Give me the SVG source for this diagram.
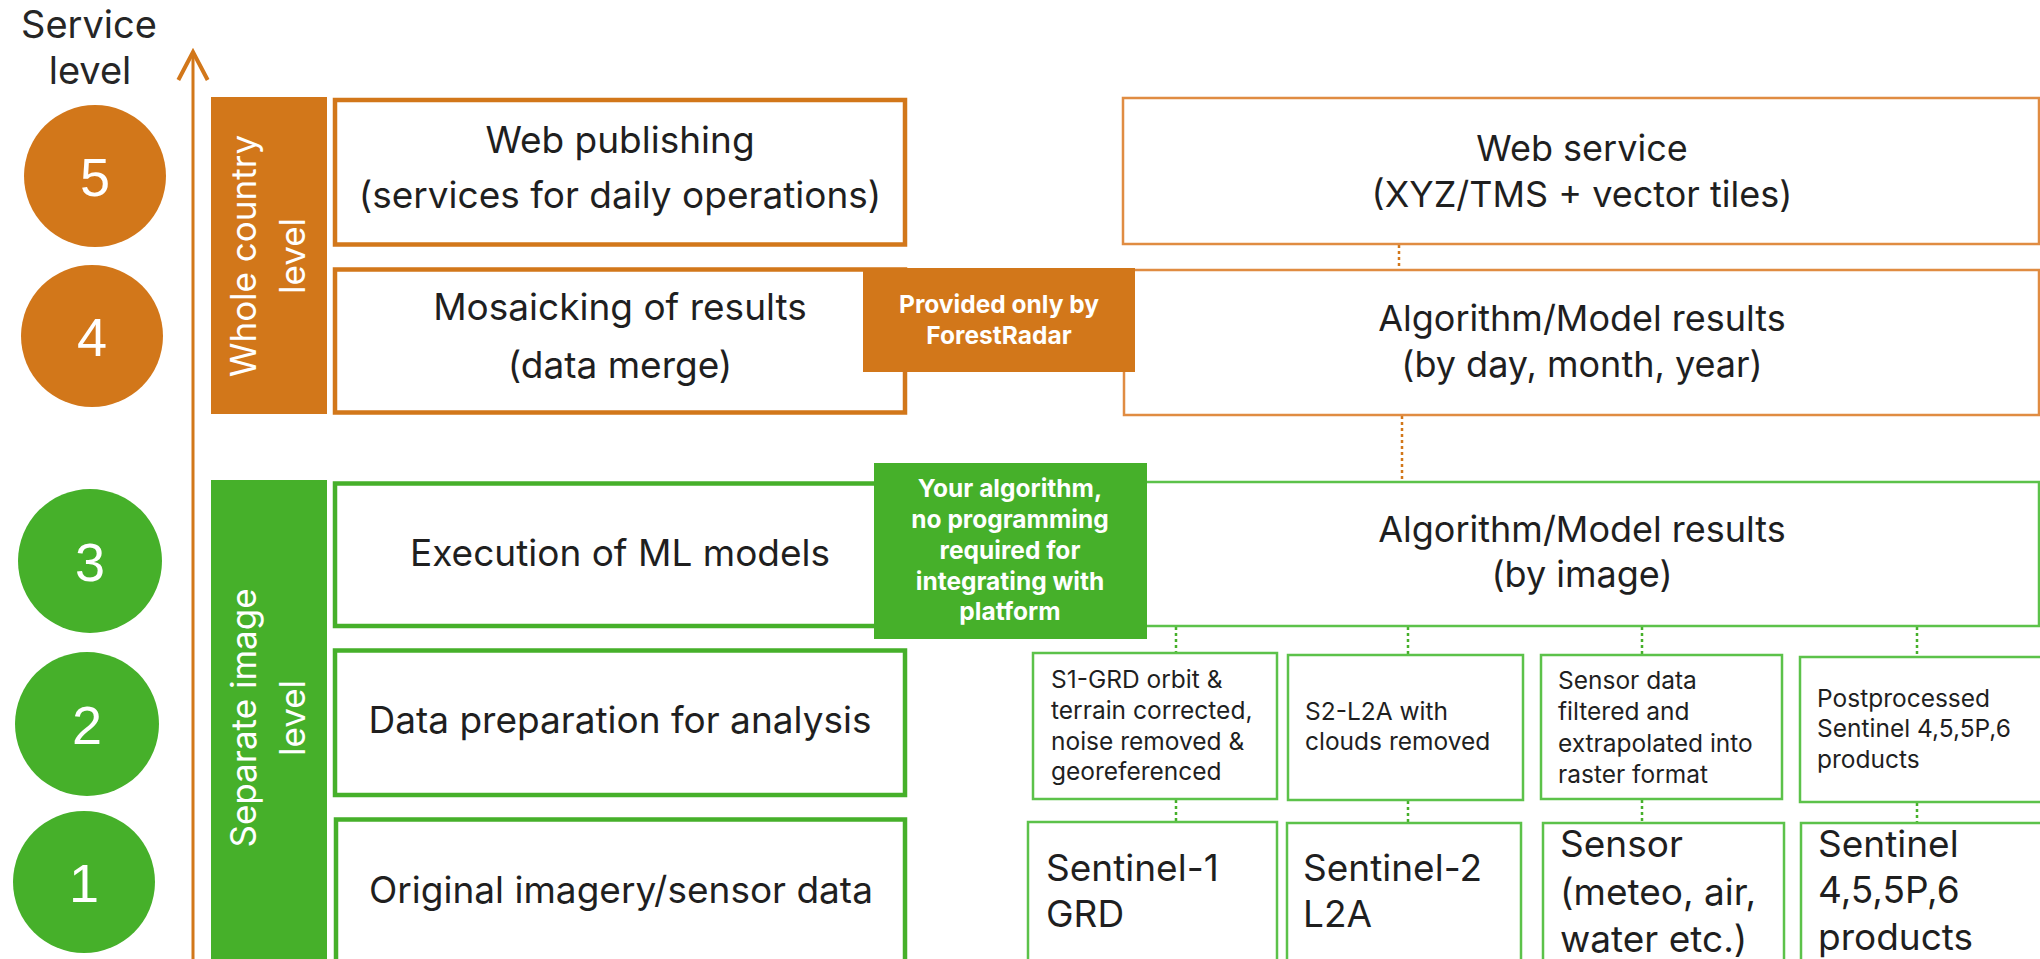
<svg xmlns="http://www.w3.org/2000/svg" width="2040" height="959" viewBox="0 0 2040 959">
<style>
text{font-family:Inter,"Open Sans","Liberation Sans",sans-serif;fill:#1f1f1f}
.lbl{font-size:37px;text-anchor:middle}
.rt{font-size:36px;text-anchor:middle}
.big{font-size:37px}
.sm{font-size:24.5px}
.co{font-size:24.5px;font-weight:bold;fill:#fff;text-anchor:middle}
.bar{font-size:35px;fill:#fff;text-anchor:middle}
.dig{font-family:"Liberation Sans",Inter,sans-serif;font-size:54px;fill:#fff;text-anchor:middle}
.hdr{font-size:38px;text-anchor:middle;fill:#262626}
.obox{fill:#fff;stroke:#D2771A;stroke-width:4.5}
.gbox{fill:#fff;stroke:#46B02A;stroke-width:4.5}
.orbox{fill:#fff;stroke:#E08C42;stroke-width:2.5}
.grbox{fill:#fff;stroke:#5CC24A;stroke-width:2.5}
.ofill{fill:#D2771A}
.gfill{fill:#46B02A}
.odot{stroke:#D2771A;stroke-width:2.5;stroke-dasharray:3 3;fill:none}
.gdot{stroke:#46B02A;stroke-width:2.5;stroke-dasharray:3 3;fill:none}
.axis{stroke:#D2771A;stroke-width:3;fill:none}
</style>
<defs>
<marker id="chev" markerUnits="userSpaceOnUse" markerWidth="40" markerHeight="40" viewBox="-25 -15 30 30" refX="0" refY="0" orient="auto" overflow="visible">
<path d="M-21,-11 L0,0 L-21,11" fill="none" stroke="#D2771A" stroke-width="3"/>
</marker>
</defs>
<rect width="2040" height="959" fill="#fff"/>

<g id="axis">
<text class="hdr" x="89" y="38">Service</text>
<text class="hdr" x="90" y="84">level</text>
<line class="axis" x1="193" y1="962" x2="193" y2="52" marker-end="url(#chev)"/>
</g>

<g id="level5"><circle class="ofill" cx="95" cy="176" r="71"/><text class="dig" x="95" y="196">5</text></g>
<g id="level4"><circle class="ofill" cx="92" cy="336" r="71"/><text class="dig" x="92" y="356">4</text></g>
<g id="level3"><circle class="gfill" cx="90" cy="561" r="72"/><text class="dig" x="90" y="581">3</text></g>
<g id="level2"><circle class="gfill" cx="87" cy="724" r="72"/><text class="dig" x="87" y="744">2</text></g>
<g id="level1"><circle class="gfill" cx="84" cy="882" r="71"/><text class="dig" x="84" y="902">1</text></g>

<g id="bar-country">
<rect class="ofill" x="211" y="97" width="116" height="317"/>
<text class="bar" transform="translate(0,256) rotate(-90)"><tspan x="0" y="256">Whole country</tspan><tspan x="0" y="305">level</tspan></text>
</g>
<g id="bar-image">
<rect class="gfill" x="211" y="480" width="116" height="490"/>
<text class="bar" transform="translate(0,718) rotate(-90)"><tspan x="0" y="256">Separate image</tspan><tspan x="0" y="305">level</tspan></text>
</g>

<g id="connectors">
<line class="odot" x1="1399" y1="245" x2="1399" y2="269"/>
<line class="odot" x1="1402" y1="416" x2="1402" y2="481"/>
<line class="gdot" x1="1176" y1="627" x2="1176" y2="653"/>
<line class="gdot" x1="1408" y1="627" x2="1408" y2="655"/>
<line class="gdot" x1="1642" y1="627" x2="1642" y2="655"/>
<line class="gdot" x1="1917" y1="627" x2="1917" y2="657"/>
<line class="gdot" x1="1176" y1="800" x2="1176" y2="822"/>
<line class="gdot" x1="1408" y1="801" x2="1408" y2="823"/>
<line class="gdot" x1="1642" y1="800" x2="1642" y2="823"/>
<line class="gdot" x1="1917" y1="803" x2="1917" y2="823"/>
</g>

<g id="web-publishing">
<rect class="obox" x="335" y="100" width="570" height="144.5"/>
<text class="lbl" x="620" y="153">Web publishing</text>
<text class="lbl" x="620" y="208">(services for daily operations)</text>
</g>
<g id="mosaicking">
<rect class="obox" x="335" y="269.5" width="570" height="143"/>
<text class="lbl" x="620" y="320">Mosaicking of results</text>
<text class="lbl" x="620" y="378">(data merge)</text>
</g>
<g id="execution">
<rect class="gbox" x="335" y="483.5" width="570" height="142.5"/>
<text class="lbl" x="620" y="566">Execution of ML models</text>
</g>
<g id="data-prep">
<rect class="gbox" x="335" y="650.5" width="570" height="144.5"/>
<text class="lbl" x="620" y="733">Data preparation for analysis</text>
</g>
<g id="original">
<rect class="gbox" x="336" y="819.5" width="569" height="160"/>
<text class="lbl" x="621" y="903">Original imagery/sensor data</text>
</g>

<g id="web-service">
<rect class="orbox" x="1123" y="98" width="916" height="146"/>
<text class="rt" x="1582" y="161">Web service</text>
<text class="rt" x="1582" y="207">(XYZ/TMS + vector tiles)</text>
</g>
<g id="results-period">
<rect class="orbox" x="1124" y="270" width="915" height="145"/>
<text class="rt" x="1582" y="331">Algorithm/Model results</text>
<text class="rt" x="1582" y="377">(by day, month, year)</text>
</g>
<g id="results-image">
<rect class="grbox" x="1125" y="482" width="914" height="144"/>
<text class="rt" x="1582" y="542">Algorithm/Model results</text>
<text class="rt" x="1582" y="587">(by image)</text>
</g>

<g id="prep-s1">
<rect class="grbox" x="1033" y="653" width="244" height="146"/>
<text class="sm" x="1051" y="688">S1-GRD orbit &amp;</text>
<text class="sm" x="1051" y="719">terrain corrected,</text>
<text class="sm" x="1051" y="750">noise removed &amp;</text>
<text class="sm" x="1051" y="780">georeferenced</text>
</g>
<g id="prep-s2">
<rect class="grbox" x="1288" y="655" width="235" height="145"/>
<text class="sm" x="1305" y="720">S2-L2A with</text>
<text class="sm" x="1305" y="750">clouds removed</text>
</g>
<g id="prep-sensor">
<rect class="grbox" x="1541" y="655" width="241" height="144"/>
<text class="sm" x="1558" y="689">Sensor data</text>
<text class="sm" x="1558" y="720">filtered and</text>
<text class="sm" x="1558" y="752">extrapolated into</text>
<text class="sm" x="1558" y="783">raster format</text>
</g>
<g id="prep-s456">
<rect class="grbox" x="1800" y="657" width="260" height="145"/>
<text class="sm" x="1817" y="707">Postprocessed</text>
<text class="sm" x="1817" y="737">Sentinel 4,5,5P,6</text>
<text class="sm" x="1817" y="768">products</text>
</g>

<g id="src-s1">
<rect class="grbox" x="1028" y="822" width="249" height="160"/>
<text class="big" x="1046" y="881">Sentinel-1</text>
<text class="big" x="1046" y="927">GRD</text>
</g>
<g id="src-s2">
<rect class="grbox" x="1287" y="823" width="234" height="160"/>
<text class="big" x="1303" y="881">Sentinel-2</text>
<text class="big" x="1303" y="927">L2A</text>
</g>
<g id="src-sensor">
<rect class="grbox" x="1543" y="823" width="241" height="160"/>
<text class="big" x="1560" y="857">Sensor</text>
<text class="big" x="1560" y="905">(meteo, air,</text>
<text class="big" x="1560" y="952">water etc.)</text>
</g>
<g id="src-s456">
<rect class="grbox" x="1801" y="823" width="260" height="160"/>
<text class="big" x="1818" y="857">Sentinel</text>
<text class="big" x="1818" y="903">4,5,5P,6</text>
<text class="big" x="1818" y="950">products</text>
</g>

<g id="callout-forestradar">
<rect class="ofill" x="863" y="268" width="272" height="104"/>
<text class="co" x="999" y="313">Provided only by</text>
<text class="co" x="999" y="344">ForestRadar</text>
</g>
<g id="callout-algorithm">
<rect class="gfill" x="874" y="463" width="273" height="176"/>
<text class="co" x="1010" y="497">Your algorithm,</text>
<text class="co" x="1010" y="528">no programming</text>
<text class="co" x="1010" y="559">required for</text>
<text class="co" x="1010" y="590">integrating with</text>
<text class="co" x="1010" y="620">platform</text>
</g>
</svg>
